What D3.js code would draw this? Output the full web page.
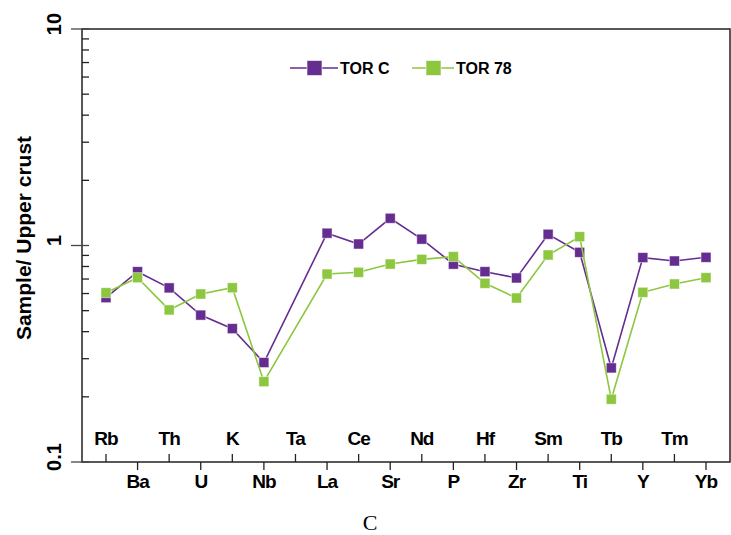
<!DOCTYPE html>
<html>
<head>
<meta charset="utf-8">
<script src="https://cdn.jsdelivr.net/npm/d3@7"></script>
<style>
  body { margin: 0; background: #fff; }
  svg { display: block; }
  text { font-family: "Liberation Sans", Arial, sans-serif; }
</style>
</head>
<body>
<svg id="chart" width="731" height="535"></svg>
<script>
// elements along the x axis (Ta has no value)
const elements = ["Rb","Ba","Th","U","K","Nb","Ta","La","Ce","Sr","Nd","P","Hf","Zr","Sm","Ti","Tb","Y","Tm","Yb"];
const torC  = [0.574,0.757,0.637,0.477,0.413,0.288,null,1.14,1.016,1.336,1.07,0.82,0.757,0.708,1.127,0.93,0.272,0.879,0.848,0.882];
const tor78 = [0.605,0.71,0.504,0.597,0.638,0.235,null,0.738,0.752,0.821,0.863,0.888,0.669,0.572,0.904,1.098,0.195,0.608,0.664,0.71];
const yTicks = [0.1, 1, 10];
const seriesNames = ["TOR C", "TOR 78"];
const colors = ["#662d91", "#8dc63f"];

const svg = d3.select("#chart");
const box = { left: 82, right: 730, top: 29, bottom: 462 };

const x = d3.scalePoint().domain(elements).range([106, 706]);
const y = d3.scaleLog().domain([0.1, 10]).range([box.bottom, box.top]);

// frame
svg.append("rect")
  .attr("x", box.left).attr("y", box.top)
  .attr("width", box.right - box.left).attr("height", box.bottom - box.top)
  .attr("fill", "none").attr("stroke", "#222").attr("stroke-width", 1.5);

// y ticks: minor inside, major crossing
const minor = [];
[0.1, 1].forEach(d => { for (let k = 2; k <= 9; k++) minor.push(d * k); });
svg.selectAll(".ymin").data(minor).join("line")
  .attr("x1", box.left).attr("x2", box.left + 7)
  .attr("y1", d => y(d)).attr("y2", d => y(d))
  .attr("stroke", "#222").attr("stroke-width", 1.3);
svg.selectAll(".ymaj").data(yTicks).join("line")
  .attr("x1", box.left - 11).attr("x2", box.left + 7)
  .attr("y1", d => y(d)).attr("y2", d => y(d))
  .attr("stroke", "#444").attr("stroke-width", 1.3);
svg.selectAll(".ylab").data(yTicks).join("text")
  .attr("transform", d => `translate(61,${y(d) - 5}) rotate(-90)`)
  .attr("text-anchor", "middle")
  .attr("font-size", 20).attr("font-weight", "bold")
  .text(d => d);

svg.append("text")
  .attr("transform", `translate(31,238) rotate(-90)`)
  .attr("text-anchor", "middle")
  .attr("font-size", 21).attr("font-weight", "bold")
  .text("Sample/ Upper crust");

// x ticks, alternating up (inside) and down (outside)
const xt = svg.selectAll(".xt").data(elements).join("g")
  .attr("transform", d => `translate(${x(d)},${box.bottom})`);
xt.append("line")
  .attr("y1", 0).attr("y2", (d, i) => i % 2 === 0 ? -8 : 8)
  .attr("stroke", "#222").attr("stroke-width", 1.3);
xt.append("text")
  .attr("y", (d, i) => i % 2 === 0 ? -17 : 26)
  .attr("text-anchor", "middle")
  .attr("font-size", 19).attr("font-weight", "bold")
  .attr("letter-spacing", -1)
  .text(d => d);

// series
const line = d3.line()
  .defined(d => d.v != null)
  .x(d => x(d.e)).y(d => y(d.v));
[torC, tor78].forEach((vals, s) => {
  const pts = elements.map((e, i) => ({ e: e, v: vals[i] }));
  const g = svg.append("g");
  g.append("path")
    .datum(pts.filter(d => d.v != null))
    .attr("d", line)
    .attr("fill", "none").attr("stroke", colors[s]).attr("stroke-width", 1.6);
  g.selectAll("rect").data(pts.filter(d => d.v != null)).join("rect")
    .attr("x", d => x(d.e) - 5).attr("y", d => y(d.v) - 5)
    .attr("width", 10).attr("height", 10)
    .attr("fill", colors[s]).attr("stroke", "#fff").attr("stroke-opacity", 0.6).attr("stroke-width", 0.8);
});

// legend
const legX = [290, 412];
const leg = svg.selectAll(".leg").data(seriesNames).join("g")
  .attr("transform", (d, i) => `translate(${legX[i]},68)`);
leg.append("line")
  .attr("x1", 0).attr("x2", (d, i) => i === 0 ? 48 : 42)
  .attr("stroke", (d, i) => colors[i]).attr("stroke-width", 1.6);
leg.append("rect")
  .attr("x", (d, i) => i === 0 ? 17 : 14).attr("y", -7.5)
  .attr("width", 15).attr("height", 15)
  .attr("fill", (d, i) => colors[i]).attr("stroke", "#fff").attr("stroke-opacity", 0.6);
leg.append("text")
  .attr("x", (d, i) => i === 0 ? 50 : 44).attr("y", 6)
  .attr("font-size", 16).attr("font-weight", "bold")
  .text(d => d);

// caption
svg.append("text")
  .attr("x", 370).attr("y", 530)
  .attr("text-anchor", "middle")
  .style("font-family", "'Liberation Serif', 'Times New Roman', serif")
  .attr("font-size", 22)
  .text("C");
</script>
</body>
</html>
